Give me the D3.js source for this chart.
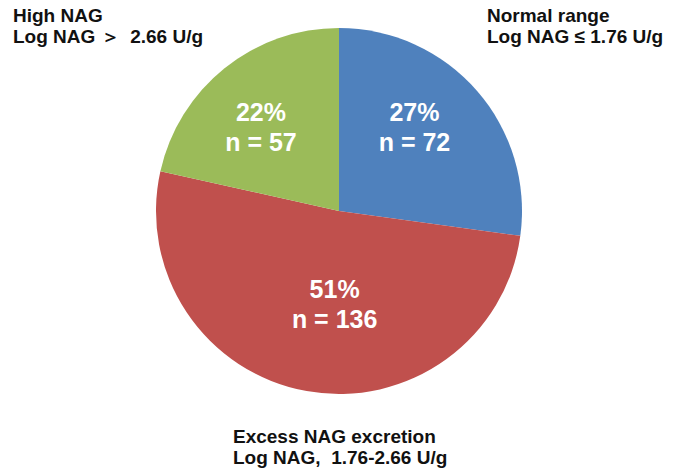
<!DOCTYPE html>
<html>
<head>
<meta charset="utf-8">
<script src="https://cdn.jsdelivr.net/npm/d3@7/dist/d3.min.js"></script>
<style>
  html, body { margin: 0; padding: 0; background: #fff; }
  svg { display: block; }
  text { font-family: "Liberation Sans", Arial, sans-serif; font-weight: bold; white-space: pre; }
</style>
</head>
<body>
<script>
// Urinary NAG categories, drawn clockwise from 12 o'clock
const categories = ["Normal range", "Excess NAG excretion", "High NAG"];
const counts = [72, 136, 57];
const colors = ["#4F81BD", "#C0504D", "#9BBB59"];
const categoryTitles = [
  ["Normal range", "Log NAG \u2264 1.76 U/g"],
  ["Excess NAG excretion", "Log NAG,  1.76-2.66 U/g"],
  ["High NAG", "Log NAG \uFF1E  2.66 U/g"]
];

const W = 683, H = 474;
const cx = 339, cy = 211, R = 183;

const svg = d3.select("body").append("svg")
  .attr("width", W).attr("height", H);

const total = d3.sum(counts);
const slices = d3.pie().sort(null).value(d => d)(counts);
const arc = d3.arc().innerRadius(0).outerRadius(R);

const g = svg.append("g").attr("transform", `translate(${cx},${cy})`);

g.selectAll("path.slice")
  .data(slices)
  .join("path")
  .attr("class", "slice")
  .attr("d", arc)
  .attr("fill", (d, i) => colors[i]);

// In-slice labels: radius and angle nudge per slice relative to the slice mid-angle
const labelPlacement = [
  { r: 113, dAngle: -7 },
  { r: 93, dAngle: -7.5 },
  { r: 115, dAngle: -4 }
];

const inLabels = g.selectAll("g.inlabel")
  .data(slices)
  .join("g")
  .attr("class", "inlabel")
  .attr("transform", (d, i) => {
    const p = labelPlacement[i];
    const a = (d.startAngle + d.endAngle) / 2 + p.dAngle * Math.PI / 180;
    return `translate(${p.r * Math.sin(a)},${-p.r * Math.cos(a)})`;
  });

inLabels.append("text")
  .attr("text-anchor", "middle")
  .attr("y", -6)
  .attr("fill", "#fff")
  .style("font-size", "25px")
  .text(d => Math.round(d.value / total * 100) + "%");

inLabels.append("text")
  .attr("text-anchor", "middle")
  .attr("y", 24)
  .attr("fill", "#fff")
  .style("font-size", "25px")
  .text(d => "n = " + d.value);

// Category titles around the pie
const titlePos = [
  { x: 487, y: 22 },
  { x: 233, y: 443 },
  { x: 13, y: 22 }
];

categoryTitles.forEach((lines, i) => {
  const t = svg.append("text")
    .attr("x", titlePos[i].x)
    .attr("y", titlePos[i].y)
    .attr("fill", "#111")
    .style("font-size", "19px");
  lines.forEach((line, k) => {
    t.append("tspan")
      .attr("x", titlePos[i].x)
      .attr("dy", k === 0 ? 0 : 21)
      .text(line);
  });
});
</script>
</body>
</html>
